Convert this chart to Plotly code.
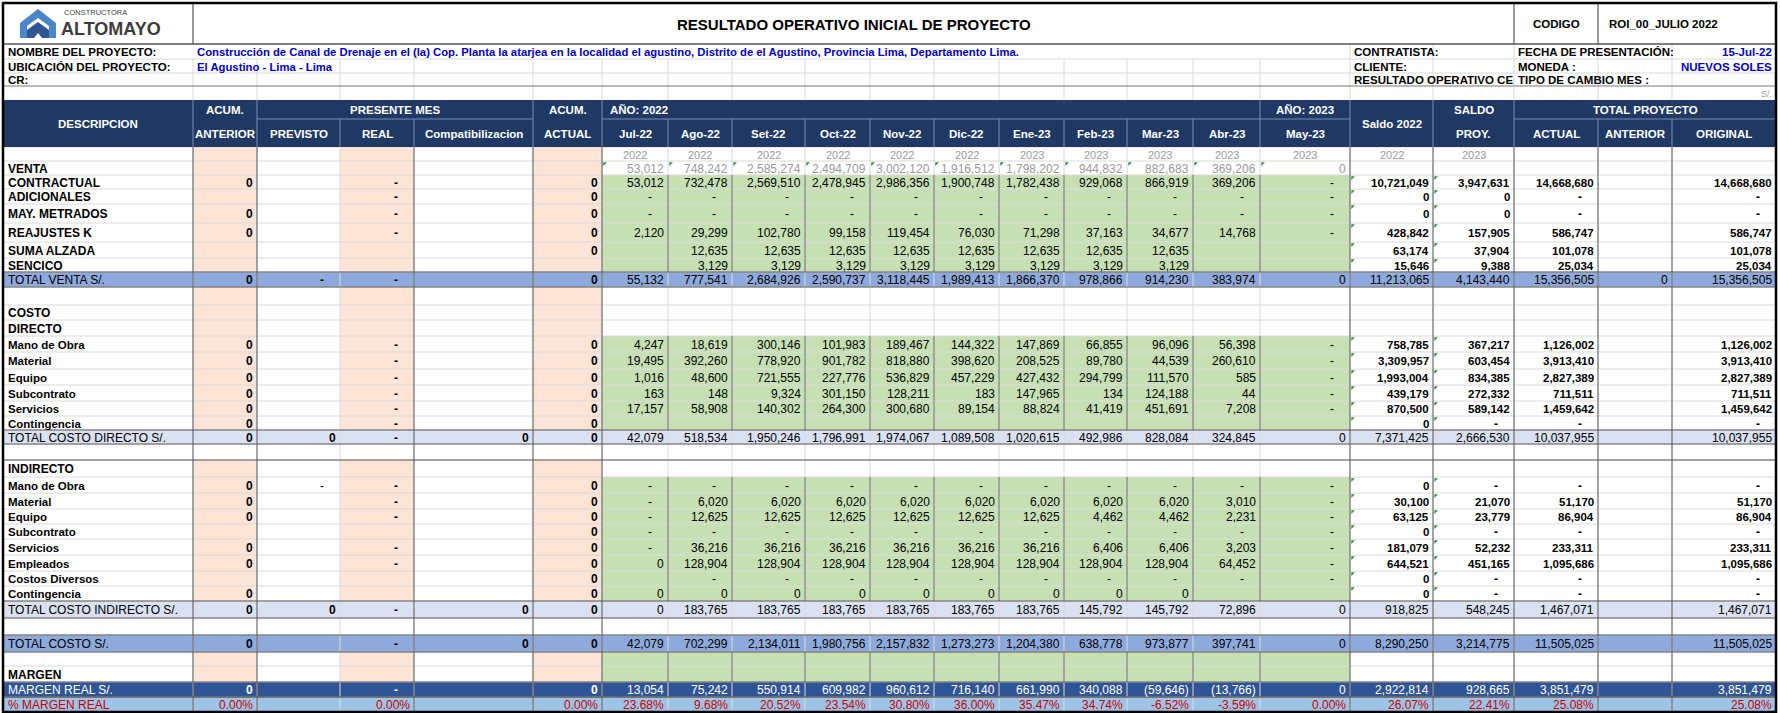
import plotly.graph_objects as go

# ---------------- data ----------------
meses = ["Jul-22", "Ago-22", "Set-22", "Oct-22", "Nov-22", "Dic-22",
         "Ene-23", "Feb-23", "Mar-23", "Abr-23", "May-23"]
anio_mes = ["2022"] * 6 + ["2023"] * 5

# value order per row:
# acum_ant, previsto, real, compat, acum_act, 11 months, saldo_2022, saldo_proy, actual, anterior, original
fila_anio = [None] * 5 + anio_mes + ["2022", "2023", None, None, None]
venta_prevista = [None] * 5 + [53012, 748242, 2585274, 2494709, 3002120, 1916512,
                               1798202, 944832, 882683, 369206, 0] + [None] * 5

contractual = [0, None, "-", None, 0, 53012, 732478, 2569510, 2478945, 2986356, 1900748,
               1782438, 929068, 866919, 369206, "-", 10721049, 3947631, 14668680, None, 14668680]
adicionales = [None, None, "-", None, 0] + ["-"] * 11 + [0, 0, "-", None, "-"]
may_metrados = [0, None, "-", None, 0] + ["-"] * 11 + [0, 0, "-", None, "-"]
reajustes_k = [0, None, "-", None, 0, 2120, 29299, 102780, 99158, 119454, 76030, 71298,
               37163, 34677, 14768, "-", 428842, 157905, 586747, None, 586747]
suma_alzada = [None, None, None, None, 0, None] + [12635] * 8 + [None, None, 63174, 37904, 101078, None, 101078]
sencico = [None] * 6 + [3129] * 8 + [None, None, 15646, 9388, 25034, None, 25034]
total_venta = [0, "-", "-", None, 0, 55132, 777541, 2684926, 2590737, 3118445, 1989413,
               1866370, 978866, 914230, 383974, 0, 11213065, 4143440, 15356505, 0, 15356505]

mo_dir = [0, None, "-", None, 0, 4247, 18619, 300146, 101983, 189467, 144322, 147869,
          66855, 96096, 56398, "-", 758785, 367217, 1126002, None, 1126002]
mat_dir = [0, None, "-", None, 0, 19495, 392260, 778920, 901782, 818880, 398620, 208525,
           89780, 44539, 260610, "-", 3309957, 603454, 3913410, None, 3913410]
eq_dir = [0, None, "-", None, 0, 1016, 48600, 721555, 227776, 536829, 457229, 427432,
          294799, 111570, 585, "-", 1993004, 834385, 2827389, None, 2827389]
sub_dir = [0, None, "-", None, 0, 163, 148, 9324, 301150, 128211, 183, 147965,
           134, 124188, 44, "-", 439179, 272332, 711511, None, 711511]
serv_dir = [0, None, "-", None, 0, 17157, 58908, 140302, 264300, 300680, 89154, 88824,
            41419, 451691, 7208, "-", 870500, 589142, 1459642, None, 1459642]
cont_dir = [0, None, "-", None, 0] + [None] * 11 + [0, "-", "-", None, "-"]
total_cd = [0, 0, "-", 0, 0, 42079, 518534, 1950246, 1796991, 1974067, 1089508, 1020615,
            492986, 828084, 324845, 0, 7371425, 2666530, 10037955, None, 10037955]

mo_ind = [0, "-", "-", None, 0] + ["-"] * 11 + [0, "-", "-", None, "-"]
mat_ind = [0, None, "-", None, 0, "-"] + [6020] * 8 + [3010, "-", 30100, 21070, 51170, None, 51170]
eq_ind = [0, None, "-", None, 0, "-"] + [12625] * 6 + [4462, 4462, 2231, "-", 63125, 23779, 86904, None, 86904]
sub_ind = [None, None, None, None, 0] + ["-"] * 11 + [0, "-", "-", None, "-"]
serv_ind = [0, None, "-", None, 0, "-"] + [36216] * 6 + [6406, 6406, 3203, "-", 181079, 52232, 233311, None, 233311]
emp_ind = [0, None, "-", None, 0, 0] + [128904] * 8 + [64452, "-", 644521, 451165, 1095686, None, 1095686]
div_ind = [None, None, None, None, 0, None] + ["-"] * 10 + [0, "-", "-", None, "-"]
cont_ind = [0, None, None, None, 0] + [0] * 9 + [None, None, 0, "-", "-", None, "-"]
total_ci = [0, 0, "-", 0, 0, 0] + [183765] * 6 + [145792, 145792, 72896, 0, 918825, 548245, 1467071, None, 1467071]

total_costo = [0, None, "-", 0, 0, 42079, 702299, 2134011, 1980756, 2157832, 1273273, 1204380,
               638778, 973877, 397741, 0, 8290250, 3214775, 11505025, None, 11505025]
margen_real = [0, None, "-", None, 0, 13054, 75242, 550914, 609982, 960612, 716140, 661990,
               340088, -59646, -13766, 0, 2922814, 928665, 3851479, None, 3851479]
pct_margen = [0.0, None, 0.0, None, 0.0, 23.68, 9.68, 20.52, 23.54, 30.80, 36.00, 35.47,
              34.74, -6.52, -3.59, 0.00, 26.07, 22.41, 25.08, None, 25.08]

# (label, values, row kind)
rows = [
    ("", fila_anio, "yr"),
    ("VENTA", venta_prevista, "fc"),
    ("CONTRACTUAL", contractual, "item"),
    ("ADICIONALES", adicionales, "item"),
    ("MAY. METRADOS", may_metrados, "item"),
    ("REAJUSTES K", reajustes_k, "item"),
    ("SUMA ALZADA", suma_alzada, "item"),
    ("SENCICO", sencico, "item"),
    ("TOTAL VENTA S/.", total_venta, "tot1"),
    ("", None, "blank_p"),
    ("COSTO", None, "sec"),
    ("DIRECTO", None, "sec"),
    ("Mano de Obra", mo_dir, "item"),
    ("Material", mat_dir, "item"),
    ("Equipo", eq_dir, "item"),
    ("Subcontrato", sub_dir, "item"),
    ("Servicios", serv_dir, "item"),
    ("Contingencia", cont_dir, "item"),
    ("TOTAL COSTO DIRECTO S/.", total_cd, "tot2"),
    ("", None, "blank_w"),
    ("INDIRECTO", None, "sec"),
    ("Mano de Obra", mo_ind, "item"),
    ("Material", mat_ind, "item"),
    ("Equipo", eq_ind, "item"),
    ("Subcontrato", sub_ind, "item"),
    ("Servicios", serv_ind, "item"),
    ("Empleados", emp_ind, "item"),
    ("Costos Diversos", div_ind, "item"),
    ("Contingencia", cont_ind, "item"),
    ("TOTAL COSTO INDIRECTO S/.", total_ci, "tot2"),
    ("", None, "blank_w"),
    ("TOTAL COSTO S/.", total_costo, "tot1"),
    ("", None, "blank_g"),
    ("MARGEN", None, "blank_g"),
    ("MARGEN REAL S/.", margen_real, "mr"),
    ("% MARGEN REAL", pct_margen, "pct"),
]

# ---------------- layout grid (pixels) ----------------
W, H = 1780, 713
FONT = "Liberation Sans, Arial, sans-serif"
col_edges = [3, 193, 257, 340, 414, 533, 602, 668, 732, 805, 870, 934, 999, 1064,
             1127, 1193, 1260, 1350, 1433, 1514, 1598, 1672, 1776]
row_edges = [147, 161, 175, 189, 204, 223, 242, 258, 272, 287, 305, 320, 336, 352, 369,
             385, 401, 416, 430, 444, 460, 477, 493, 509, 524, 539, 555, 571, 586, 601,
             618, 635, 652, 666, 682, 697, 712]
top_edges = [3, 44, 59, 73, 86, 100]
HEAD_TOP, HEAD_MID, HEAD_BOT = 100, 119, 147

NAVY = "#1F3864"
PEACH = "#FCE4D6"
GREEN = "#C6E0B4"
BLUE_MID = "#8EA9DB"
BLUE_LT = "#D9E1F2"
BLUE_DK = "#2F5597"
BLUE_PCT = "#9DC3E6"
GRID = "#DADADA"
DARK = "#5A5A5A"
TXT_BLUE = "#0000CC"
RED = "#CC0000"

shapes = []
annotations = []


def rect(x0, x1, y0, y1, color):
    shapes.append(dict(type="rect", xref="x", yref="y", x0=x0, x1=x1, y0=y0, y1=y1,
                       fillcolor=color, line=dict(width=0)))


def hline(x0, x1, y, color=GRID, width=1):
    shapes.append(dict(type="line", xref="x", yref="y", x0=x0, x1=x1, y0=y, y1=y,
                       line=dict(color=color, width=width)))


def vline(x, y0, y1, color=GRID, width=1):
    shapes.append(dict(type="line", xref="x", yref="y", x0=x, x1=x, y0=y0, y1=y1,
                       line=dict(color=color, width=width)))


def text(x, y, s, anchor="left", size=11, color="black", bold=False):
    annotations.append(dict(x=x, y=y, xref="x", yref="y", text=f"<b>{s}</b>" if bold else s,
                            showarrow=False, xanchor=anchor, yanchor="middle",
                            font=dict(family=FONT, size=size, color=color)))


def fmt(v, pct=False):
    if v is None:
        return None
    if isinstance(v, str):
        return v
    if pct:
        return f"{v:.2f}%"
    if v < 0:
        return f"({abs(v):,})"
    return f"{v:,}"


full_fill = {"tot1": BLUE_MID, "tot2": BLUE_LT, "mr": BLUE_DK, "pct": BLUE_PCT}
MONTH0, MONTH1 = 6, 16  # column indexes of Jul-22 .. May-23

# ---------------- body fills ----------------
for ri, (label, vals, kind) in enumerate(rows):
    y0, y1 = row_edges[ri], row_edges[ri + 1]
    if kind in full_fill:
        rect(col_edges[0], col_edges[-1], y0, y1, full_fill[kind])
        continue
    if kind != "blank_w":
        for c in (1, 3, 5):
            rect(col_edges[c], col_edges[c + 1], y0, y1, PEACH)
    if kind in ("item", "blank_g"):
        rect(col_edges[MONTH0], col_edges[MONTH1 + 1], y0, y1, GREEN)

# faint gridlines
for y in row_edges:
    hline(col_edges[0], col_edges[-1], y)
for x in col_edges:
    vline(x, HEAD_BOT, row_edges[-1])

# darker separators between months where cells are green
ri = 0
while ri < len(rows):
    if rows[ri][2] in ("item", "blank_g"):
        rj = ri
        while rj + 1 < len(rows) and rows[rj + 1][2] in ("item", "blank_g"):
            rj += 1
        for c in range(MONTH0 + 1, MONTH1 + 1):
            vline(col_edges[c], row_edges[ri], row_edges[rj + 1], "#6E6E6E", 1)
        ri = rj + 1
    else:
        ri += 1

# major vertical separators
for c in (1, 2, 4, 5, 6, 17, 18, 19, 20, 21):
    vline(col_edges[c], HEAD_BOT, row_edges[-1], DARK, 1)

# horizontal rules around totals
for ri, (label, vals, kind) in enumerate(rows):
    if kind in full_fill:
        hline(col_edges[0], col_edges[-1], row_edges[ri], DARK, 1.2)
        hline(col_edges[0], col_edges[-1], row_edges[ri + 1], DARK, 1.2)
hline(col_edges[0], col_edges[-1], row_edges[20], DARK, 1.2)

# ---------------- body text ----------------
tri_x, tri_y = [], []
for ri, (label, vals, kind) in enumerate(rows):
    y0, y1 = row_edges[ri], row_edges[ri + 1]
    yc = (y0 + y1) / 2 + 0.5
    if label:
        if kind == "mr":
            text(col_edges[0] + 3, yc, label, color="white", size=12)
        elif kind == "pct":
            text(col_edges[0] + 3, yc, label, color=RED, size=12)
        elif kind in ("tot1", "tot2"):
            text(col_edges[0] + 3, yc, label, size=12)
        else:
            text(col_edges[0] + 3, yc, label, bold=True, size=12 if label.isupper() else 11.5)
    if vals is None:
        continue
    for k, v in enumerate(vals):
        c = k + 1
        s = fmt(v, pct=(kind == "pct"))
        if s is None:
            continue
        xl, xr = col_edges[c], col_edges[c + 1]
        color = "black"
        if kind in ("yr", "fc"):
            color = "#9A9A9A"
        elif kind == "mr":
            color = "white"
        elif kind == "pct":
            color = RED
        if kind in ("item",):
            bold = c in (1, 3, 5) or c >= 17
        elif kind in ("tot1", "tot2", "mr"):
            bold = c <= 5
        else:
            bold = False
        size = 11.5 if (bold and c >= 17) else 12
        if kind == "yr":
            text((xl + xr) / 2, yc, s, anchor="center", size=11, color=color)
        elif s == "-":
            text(xr - 18, yc, s, anchor="center", size=12, color=color, bold=bold)
        else:
            text(xr - 2, yc, s, anchor="right", size=size, color=color, bold=bold)
        if kind in ("item", "fc") and (c in (1, 5) or MONTH0 <= c <= 18):
            tri_x.append(xl + 2.5)
            tri_y.append(y0 + 2.5)

# ---------------- header ----------------
rect(col_edges[0], col_edges[-1], HEAD_TOP, HEAD_BOT, NAVY)
HL = "#7D8DAE"
for a, b in ((2, 5), (MONTH0, MONTH1), (MONTH1, MONTH1 + 1), (19, 22)):
    hline(col_edges[a], col_edges[b], HEAD_MID, HL, 1)
for c in (1, 2, 5, 6, 16, 17, 18, 19):
    vline(col_edges[c], HEAD_TOP, HEAD_BOT, HL, 1)
for c in (3, 4, 20, 21) + tuple(range(MONTH0 + 1, MONTH1)):
    vline(col_edges[c], HEAD_MID, HEAD_BOT, HL, 1)

yt, yb, ym = (HEAD_TOP + HEAD_MID) / 2 + 0.5, (HEAD_MID + HEAD_BOT) / 2 + 0.5, (HEAD_TOP + HEAD_BOT) / 2


def cx(c0, c1=None):
    c1 = c0 if c1 is None else c1
    return (col_edges[c0] + col_edges[c1 + 1]) / 2


hdr = dict(color="white", bold=True, size=11.5, anchor="center")
text(cx(0), ym, "DESCRIPCION", **hdr)
text(cx(1), yt, "ACUM.", **hdr)
text(cx(1), yb, "ANTERIOR", **hdr)
text(cx(2, 4), yt, "PRESENTE MES", **hdr)
text(cx(2), yb, "PREVISTO", **hdr)
text(cx(3), yb, "REAL", **hdr)
text(cx(4), yb, "Compatibilizacion", **hdr)
text(cx(5), yt, "ACUM.", **hdr)
text(cx(5), yb, "ACTUAL", **hdr)
text(col_edges[MONTH0] + 6, yt, "<b>AÑO: 2022</b>", color="white", size=11.5)
text(cx(MONTH1), yt, "AÑO: 2023", **hdr)
for i, m in enumerate(meses):
    text(cx(MONTH0 + i), yb, m, **hdr)
text(cx(17), ym, "Saldo 2022", **hdr)
text(cx(18), yt, "SALDO", **hdr)
text(cx(18), yb, "PROY.", **hdr)
text(cx(19, 21), yt, "TOTAL PROYECTO", **hdr)
text(cx(19), yb, "ACTUAL", **hdr)
text(cx(20), yb, "ANTERIOR", **hdr)
text(cx(21), yb, "ORIGINAL", **hdr)

# ---------------- top block ----------------
for y in top_edges[2:4]:
    hline(col_edges[0], col_edges[-1], y)
for x in col_edges:
    vline(x, top_edges[2], top_edges[5])
for x in col_edges[17:]:
    vline(x, top_edges[1], top_edges[2])
hline(col_edges[0], col_edges[-1], top_edges[1], "#555555", 1.5)
hline(col_edges[0], col_edges[-1], top_edges[4], "#777777", 1.2)
for x in (col_edges[1], col_edges[19], col_edges[20]):
    vline(x, top_edges[0], top_edges[1], "#555555", 1.2)

ty = [(top_edges[i] + top_edges[i + 1]) / 2 + 0.5 for i in range(5)]
text(cx(1, 18), ty[0], "RESULTADO OPERATIVO INICIAL DE PROYECTO", anchor="center", size=15, bold=True)
text(cx(19), ty[0], "CODIGO", anchor="center", size=11.5, bold=True)
text(col_edges[20] + 65, ty[0], "ROI_00_JULIO 2022", anchor="center", size=11.5, bold=True)

text(col_edges[0] + 3, ty[1], "NOMBRE DEL PROYECTO:", size=11.5, bold=True)
text(col_edges[0] + 3, ty[2], "UBICACIÓN DEL PROYECTO:", size=11.5, bold=True)
text(col_edges[0] + 3, ty[3], "CR:", size=11.5, bold=True)
text(col_edges[1] + 2, ty[1],
     "Construcción de Canal de Drenaje en el (la) Cop. Planta la atarjea en la localidad el agustino, "
     "Distrito de el Agustino, Provincia Lima, Departamento Lima.", size=11.3, bold=True, color=TXT_BLUE)
text(col_edges[1] + 2, ty[2], "El Agustino - Lima - Lima", size=11.3, bold=True, color=TXT_BLUE)

text(col_edges[17] + 2, ty[1], "CONTRATISTA:", size=11.5, bold=True)
text(col_edges[17] + 2, ty[2], "CLIENTE:", size=11.5, bold=True)
text(col_edges[17] + 2, ty[3], "RESULTADO OPERATIVO CE", size=11.5, bold=True)
text(col_edges[19] + 2, ty[1], "FECHA DE PRESENTACIÓN:", size=11.5, bold=True)
text(col_edges[19] + 2, ty[2], "MONEDA :", size=11.5, bold=True)
text(col_edges[19] + 2, ty[3], "TIPO DE CAMBIO MES :", size=11.5, bold=True)
text(col_edges[-1] - 2, ty[1], "15-Jul-22", anchor="right", size=11.5, bold=True, color=TXT_BLUE)
text(col_edges[-1] - 2, ty[2], "NUEVOS SOLES", anchor="right", size=11.5, bold=True, color=TXT_BLUE)
text(col_edges[-1] - 2, ty[4], "S/.", anchor="right", size=9, color="#A0A0A0")

# logo
shapes.append(dict(type="path", xref="x", yref="y",
                   path="M 20 38 L 20 23 L 38 9 L 56 23 L 56 38 L 49 38 L 49 26 L 38 18 L 27 26 L 27 38 Z",
                   fillcolor="#4A86C8", line=dict(width=0)))
shapes.append(dict(type="path", xref="x", yref="y",
                   path="M 27 38 L 27 30 L 38 22 L 49 30 L 49 38 L 42 38 L 38 33 L 34 38 Z",
                   fillcolor="#2F5597", line=dict(width=0)))
text(62, 12, "CONSTRUCTORA", size=7.5, color="#444444")
text(59, 29, "ALTOMAYO", size=18, bold=True, color="#3C3C3C")

# outer frame
shapes.append(dict(type="rect", xref="x", yref="y", x0=col_edges[0], x1=col_edges[-1],
                   y0=top_edges[0], y1=row_edges[-1], line=dict(color="black", width=2.5),
                   fillcolor="rgba(0,0,0,0)"))

# ---------------- figure ----------------
fig = go.Figure()
fig.add_trace(go.Scatter(x=tri_x, y=tri_y, mode="markers", hoverinfo="skip",
                         marker=dict(symbol="triangle-nw", size=4, color="#2E8B3A", line=dict(width=0))))
fig.update_layout(
    width=W, height=H, margin=dict(l=0, r=0, t=0, b=0),
    paper_bgcolor="white", plot_bgcolor="white", showlegend=False,
    shapes=shapes, annotations=annotations,
    xaxis=dict(range=[0, W], visible=False, fixedrange=True),
    yaxis=dict(range=[H, 0], visible=False, fixedrange=True),
)
fig.write_html("out.html", config={"displayModeBar": False},
               post_script="document.body.style.margin='0';")
